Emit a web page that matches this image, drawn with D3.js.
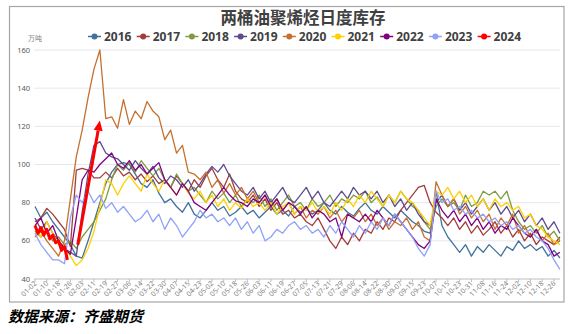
<!DOCTYPE html>
<html><head><meta charset="utf-8">
<script src="https://cdn.jsdelivr.net/npm/d3@7/dist/d3.min.js"></script>
<style>
html,body{margin:0;padding:0;background:#fff;}
svg{display:block;font-family:"Noto Sans","Noto Sans CJK SC",sans-serif;}
</style></head>
<body><svg id="c" width="573" height="334"></svg>
<script>
// ---- data ----
const years = ["2016","2017","2018","2019","2020","2021","2022","2023","2024"];
const tickLabels = ["01-02","01-10","01-18","01-26","02-03","02-11","02-19","02-27","03-06","03-14","03-22","03-30","04-07","04-15","04-23","05-02","05-10","05-18","05-26","06-03","06-11","06-19","06-27","07-05","07-13","07-21","07-29","08-06","08-14","08-22","08-30","09-07","09-15","09-23","10-07","10-15","10-23","10-31","11-08","11-16","11-24","12-02","12-10","12-18","12-26"];
const yTicks = [40,60,80,100,120,140,160];
// values sampled every 4 trading-calendar categories (2024: every 2)
const v2016 = [78,72,75,70,66,62,58,52,51,60,70,80,90,96,100,101,100,95,90,88,92,85,80,82,78,75,80,74,72,76,80,76,78,73,75,78,74,76,72,75,78,74,76,73,78,75,77,74,76,80,76,74,78,75,73,77,80,76,74,78,75,72,76,73,70,68,65,64,86,68,62,58,54,58,52,57,54,58,55,52,57,55,60,56,58,55,57,52,55,51];
const v2017 = [70,72,77,74,70,66,57,97,98,97,93,93,96,93,98,94,96,92,95,91,94,90,92,88,94,90,86,92,88,94,98,92,88,95,86,82,80,84,78,82,76,80,74,76,72,74,70,68,72,66,60,56,62,58,64,60,66,64,70,66,72,70,76,80,84,88,89,80,75,72,68,72,66,70,64,68,63,66,70,64,68,62,66,60,64,58,62,60,58,62];
const v2018 = [65,62,66,60,62,58,60,56,62,66,70,76,82,92,100,97,101,96,102,98,94,98,92,88,95,90,86,88,84,80,86,82,85,80,84,78,82,80,84,78,82,76,80,84,78,80,76,82,78,80,84,78,82,80,84,82,86,80,83,78,84,80,86,82,78,76,70,66,78,82,78,80,76,84,78,80,86,84,86,82,86,76,70,66,68,64,68,62,65,60];
const v2019 = [72,66,70,64,60,56,54,52,75,95,110,112,106,104,103,100,97,102,98,95,99,93,90,94,92,88,92,86,90,95,99,96,100,94,90,86,84,88,82,86,80,84,88,82,80,84,88,82,86,80,78,82,86,82,88,84,86,82,86,80,84,78,82,76,80,74,70,68,80,84,78,82,76,80,74,78,82,76,80,74,78,72,76,70,74,68,72,66,70,64];
const v2020 = [62,65,60,56,52,60,82,104,118,135,150,160,124,125,119,134,121,128,124,133,128,125,113,118,106,110,96,95,92,96,88,92,85,90,84,88,82,86,80,84,78,82,76,80,74,78,72,76,74,78,72,76,70,74,72,76,70,74,68,72,66,70,68,72,66,70,62,60,91,84,78,82,74,78,72,76,70,74,66,72,68,74,64,68,62,66,60,64,58,60];
const v2021 = [68,62,70,64,58,56,52,47,50,56,65,78,92,90,84,90,94,90,86,95,90,86,92,88,84,90,85,82,86,80,84,78,82,76,80,77,82,78,80,76,80,74,78,80,74,78,76,80,75,78,74,80,76,82,78,84,80,86,82,78,84,80,86,82,80,76,72,68,86,84,88,82,86,80,84,78,82,76,82,78,80,76,78,72,74,68,66,62,60,58];
const v2022 = [68,72,64,68,60,56,53,72,92,97,96,100,103,106,100,98,102,97,100,95,98,101,92,88,84,90,86,80,78,76,80,84,88,84,81,80,78,82,80,84,78,82,76,80,78,74,78,72,76,74,70,72,62,74,72,70,74,70,76,72,68,74,70,66,62,58,56,60,82,76,72,76,70,74,68,72,66,70,64,68,66,72,68,64,62,66,60,58,52,54];
const v2023 = [64,58,54,50,50,48,72,84,80,86,80,84,77,80,75,78,74,70,72,76,70,74,66,72,68,62,66,70,76,72,74,70,72,68,72,66,70,64,68,60,62,66,64,68,70,66,68,64,66,62,68,64,70,66,62,68,64,70,66,72,68,74,70,66,62,56,52,58,86,80,82,76,78,74,76,72,74,70,72,68,70,66,68,64,66,62,60,56,50,45];
const v2024 = [68,64,67,63,66,61,63,59,60,55,57,50];
const seriesValues = [v2016,v2017,v2018,v2019,v2020,v2021,v2022,v2023,v2024];
const seriesStep = [4,4,4,4,4,4,4,4,2];
const arrowFrom = {i:29, v:58};
const arrowTo = {i:44, v:123};
const lastIndex = 357;

// ---- styles ----
const colors = ["#41719C","#A13E3C","#7E9C3E","#5E4B8C","#C5702E","#FFD000","#800080","#8FA2F7","#FF0000"];
const widths = [1.3,1.3,1.3,1.3,1.3,1.3,1.3,1.3,3];

const svg = d3.select("#c");
svg.append("rect").attr("x",9.5).attr("y",6.5).attr("width",554.5).attr("height",295.5)
  .attr("fill","#fff").attr("stroke","#a6a6a6").attr("stroke-width",1.2);

const x = d3.scaleLinear().domain([0,352]).range([35,554]);
const y = d3.scaleLinear().domain([40,160]).range([279,50]);

// grid
svg.append("g").selectAll("line").data(yTicks.filter(t=>t>40)).join("line")
  .attr("x1",34).attr("x2",560).attr("y1",d=>y(d)).attr("y2",d=>y(d))
  .attr("stroke","#e6e6ee").attr("stroke-width",1);

// y labels
svg.append("g").selectAll("text").data(yTicks).join("text")
  .attr("x",30).attr("y",d=>y(d)+2.5).attr("text-anchor","end")
  .attr("font-size",7.5).attr("fill","#595959").text(d=>d);
svg.append("text").attr("x",28).attr("y",41).attr("font-size",7).attr("fill","#7f7f7f")
  .attr("font-family","Noto Sans CJK SC").text("万吨");

// x axis
svg.append("line").attr("x1",34).attr("x2",560).attr("y1",y(40)).attr("y2",y(40))
  .attr("stroke","#bfbfbf").attr("stroke-width",1);
const xt = svg.append("g");
tickLabels.forEach((lab,k)=>{
  const px = x(k*8);
  xt.append("line").attr("x1",px).attr("x2",px).attr("y1",y(40)).attr("y2",y(40)+3)
    .attr("stroke","#bfbfbf");
  xt.append("text").attr("transform",`translate(${px+2},${y(40)+5}) rotate(-45)`)
    .attr("text-anchor","end").attr("font-size",7).attr("fill","#7f7f7f").text(lab);
});

// lines
const gl = svg.append("g");
seriesValues.forEach((vals,s)=>{
  const line = d3.line().x((d,i)=>x(i*seriesStep[s])).y(d=>y(d));
  gl.append("path").attr("d",line(vals)).attr("fill","none")
    .attr("stroke",colors[s]).attr("stroke-width",widths[s]).attr("stroke-linejoin","round");
});

// arrow annotation
const ax1 = x(arrowFrom.i), ay1 = y(arrowFrom.v), ax2 = x(arrowTo.i), ay2 = y(arrowTo.v);
const ang = Math.atan2(ay2-ay1, ax2-ax1);
const hl = 10, hw = 4.5;
const bx = ax2 - hl*Math.cos(ang), by = ay2 - hl*Math.sin(ang);
svg.append("line").attr("x1",ax1).attr("y1",ay1).attr("x2",bx).attr("y2",by)
  .attr("stroke","#FF0000").attr("stroke-width",3);
svg.append("path").attr("d",`M${ax2},${ay2} L${bx+hw*Math.sin(ang)},${by-hw*Math.cos(ang)} L${bx-hw*Math.sin(ang)},${by+hw*Math.cos(ang)} Z`)
  .attr("fill","#FF0000");

// title
svg.append("text").attr("x",303).attr("y",24).attr("text-anchor","middle")
  .attr("font-family","Noto Sans CJK SC").attr("font-weight","bold").attr("font-size",16.5)
  .attr("fill","#404040").text("两桶油聚烯烃日度库存");

// legend
const lg = svg.append("g");
years.forEach((yr,k)=>{
  const lx = 88 + k*48.7, ly = 36.5;
  lg.append("line").attr("x1",lx).attr("x2",lx+13).attr("y1",ly).attr("y2",ly)
    .attr("stroke",colors[k]).attr("stroke-width",1.5);
  lg.append("circle").attr("cx",lx+6.5).attr("cy",ly).attr("r",3).attr("fill",colors[k]);
  lg.append("text").attr("x",lx+16).attr("y",ly+4.3).attr("font-size",12).attr("font-weight","bold")
    .attr("fill","#404040").text(yr);
});

// source
svg.append("text").attr("x",8).attr("y",322).attr("font-family","Noto Sans CJK SC")
  .attr("font-weight","bold").attr("font-style","italic").attr("font-size",15)
  .attr("fill","#000").text("数据来源：齐盛期货");
</script></body></html>
